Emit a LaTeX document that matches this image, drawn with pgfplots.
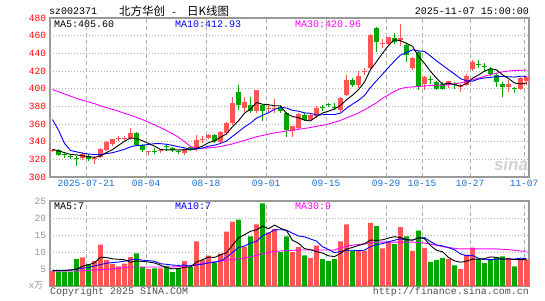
\documentclass[border=0pt]{standalone}
\usepackage{pgfplots}
\pgfplotsset{compat=1.18}
\usepackage{pgfplotstable}
\usepackage{fontspec}
\setmainfont{Liberation Mono}
\newfontfamily\cjk{Noto Sans CJK SC}
\newfontfamily\sansf{Liberation Sans}
\definecolor{cred}{RGB}{255,85,85}
\definecolor{cgreen}{RGB}{0,168,0}
\definecolor{xblue}{RGB}{20,110,210}
\definecolor{framec}{RGB}{153,153,153}
\definecolor{gridc}{RGB}{175,175,175}
\definecolor{mag}{RGB}{255,0,255}
\definecolor{volgray}{RGB}{150,150,150}
\definecolor{txtgray}{RGB}{80,80,80}

\pgfplotstableread{
i lo hi wl wh v
0 330 331 328 332 4.4
5 321 326 319 328 8.4
7 320 321 315 324 7.3
8 323 331.6 321 333 12.2
9 330.5 340 329 341 7.6
10 337 342.5 335 343 6.4
11 343 344 341 346 5.8
12 343.5 344.5 342 346 6.6
13 343.6 350 342 355 8.5
16 328 329 325 330 5.0
18 330 331 327 332 5.2
22 327 331 325 332 7.3
24 331.6 341.7 330 348 13.1
25 342 343 339 346 7.6
26 344.5 348 343 349 8.9
28 340 351 338 352 9.5
29 350 361 348 362 16
30 361 384 359 391 18.9
32 378 384.5 374 390 11.5
34 374.3 398 372 399 18.1
36 377.5 378.5 374 381 15.8
37 377.5 378.5 372 388 16.8
40 352 357.9 345.7 358 10
41 356 371.6 354 372 11.4
43 364.8 369.7 363 371 8.3
44 368.6 378 367 380 11.9
48 375.4 389.5 374 391 13.1
49 393.3 409.3 392 416 18.1
51 403.6 414.3 401 420 10.3
52 419 420 416 423 10.3
53 423 461 421 462 18.6
55 450.6 451.6 446 456 11.1
56 450.6 458.9 449 459 12.9
58 455.5 457.5 448 473 17.3
60 423.3 434.6 421 436 10.3
62 405.8 412.9 398 414 11.2
66 404 408.4 401 409 7.9
68 401.5 402.5 396 405 5.0
69 404.6 414.4 403 417 9.2
70 422.6 430 420 433 11.3
76 402 405.8 396 410 8.3
78 400 412 398 413 7.8
79 408.4 413 404 414 7.8
}\redtab

\pgfplotstableread{
i lo hi wl wh v
1 325 331 324 332 4.2
2 325 326 322 328 4.2
3 323 324 320 326 4.2
4 321 322 313 324 8.0
6 320 324 318 326 6.4
14 336 350 335 351 9.6
15 330.5 336 328 337 5.6
17 329 330 326 333 5.2
19 334 335 330 337 5.9
20 330.5 333 328 334 4.1
21 328.5 329.5 326 331 5.1
23 331 333.5 330 334 5.6
27 341 347.5 339 349 6.8
31 381 396 376 404 19.5
33 374.3 381 372 390 14.6
35 374.3 381 363 383 24.3
38 374.3 379 372 380 10
39 353.3 372.4 345 374 14.6
42 364.8 369.7 363 372 9
45 378 379 375 381 7.9
46 382 383 379 384 7.3
47 378 379 376 384 7.9
50 404 409.3 402 412 10.3
54 453 469 441 470 17.6
57 452.5 457 451 463 12.3
59 438.3 449.5 430 451 14.6
61 402 442 398 443 16.3
63 410 411 405 414 7.1
64 400 407.6 399 409 7.6
65 400 405.8 398 407 8.3
67 404 405 400 407 6.1
71 427 428 423 432 7.9
72 425 426 420 429 6.8
73 417 422.6 414 425 7.6
74 407.6 416 402 418 8.5
75 402 405.8 390 407 8.7
77 399.4 400.4 395 402 5.8
}\greentab

\pgfplotstableread{
i ma5 ma10 ma30 vma5 vma10 vma30
0 331.4 365 399 4.6 4.5 4.4
1 329.5 353 396.5 4.5 4.5 4.4
2 327.6 338 394 4.5 4.6 4.4
3 325.5 330 391.5 4.7 4.7 4.4
4 325 328.5 389 5.0 4.9 4.4
5 324 327 387 5.8 5.2 4.5
6 323 326 385 6.24 5.5 4.6
7 322.2 325.5 383 6.86 5.9 4.7
8 323.9 325.5 380.5 8.46 6.3 4.8
9 327.7 326.4 378.5 8.38 6.69 4.9
10 331 327.5 376.5 7.98 6.89 5.0
11 335.8 329.4 374.5 7.86 7.05 5.2
12 340.5 331.4 372 7.72 7.29 5.4
13 344.2 334.1 370 6.98 7.72 5.6
14 343.4 335.6 367.5 7.38 7.88 5.6
15 341 336 365 7.22 7.6 5.6
16 338 336.9 362 7.06 7.46 5.6
17 334.9 337.7 359 6.78 7.25 5.6
18 331.1 337.7 356 6.12 6.55 5.6
19 330.7 337.1 352.5 5.38 6.38 5.6
20 330.7 335.9 349 5.08 6.15 5.6
21 330.6 334.3 345 5.1 6.08 5.7
22 331 333 340 5.52 6.15 5.8
23 331 331.1 334.5 5.6 5.86 6.0
24 332.5 331.6 332.5 7.04 6.21 6.3
25 335 332.9 332.5 7.74 6.41 6.6
26 338.9 334.8 333 8.5 6.8 6.9
27 340.9 336 333.5 8.4 6.96 7.1
28 344.9 338 334.5 9.18 7.39 7.4
29 348.8 340.7 336 9.76 8.4 7.6
30 357 346 337.5 12.02 9.88 7.8
31 363.6 351.3 339.5 14.14 11.32 8.0
32 372.3 356.6 341.5 15.08 11.74 8.2
33 377 361 343.5 16.1 12.64 8.6
34 384.4 366.6 345.5 16.52 13.14 9.0
35 382.4 369.7 347 17.6 14.81 9.5
36 381.9 372.8 348.5 16.86 15.5 9.9
37 380.7 376.5 350 17.92 16.5 10.1
38 380.7 378.9 351 17 16.55 10.3
39 371.8 378.1 352 16.3 16.41 10.4
40 368.5 375.5 353 13.44 15.52 10.5
41 367.1 374.5 354 12.56 14.71 10.6
42 364.4 372.6 355 11 14.46 10.6
43 363.5 372.1 356 10.66 13.83 10.6
44 368.4 370.1 357.5 10.12 13.21 10.6
45 372.4 370.5 358.5 9.7 11.57 10.6
46 374.5 370.8 360 8.88 10.72 10.6
47 377.1 370.8 362 8.66 9.83 10.6
48 381.1 372.3 364 9.62 10.14 11.2
49 387.4 377.9 367 10.86 10.49 11.7
50 392.6 382.5 369.5 11.34 10.52 12.0
51 399 386.8 372.5 11.94 10.41 12.2
52 407.4 392.3 376 12.42 10.54 12.4
53 421.7 401.4 380 13.52 11.57 12.6
54 430.5 409 384 13.42 12.14 12.9
55 440 416.3 389 13.58 12.46 12.9
56 448.9 424 393 14.1 13.02 12.9
57 455.4 431.4 397 14.5 13.46 12.9
58 454.3 438 400 14.24 13.88 12.9
59 451.3 440.9 401.5 13.64 13.53 12.9
60 448 444 402 13.48 13.53 12.9
61 436.6 442.8 402.5 14.16 14.13 12.8
62 428.7 442.1 403 13.94 14.22 12.6
63 419.6 437 403.5 11.9 13.07 12.3
64 411.9 431.6 404 10.5 12.07 12.0
65 405 426.5 404 10.1 11.79 11.6
66 406.3 421.5 404.5 8.42 11.29 11.3
67 404.5 416.6 405.5 7.4 10.67 11.1
68 402.9 411.3 406.5 6.98 9.44 10.9
69 405.8 408.9 408 7.3 8.9 10.9
70 411.8 408.4 410 7.9 9.0 10.9
71 415.5 410.9 412 7.9 8.16 10.9
72 419.7 412.1 414 8.04 7.72 10.9
73 422.7 412.8 416 8.56 7.77 10.9
74 421.3 413.6 417.5 8.42 7.86 10.9
75 415.7 413.8 419 7.9 7.9 10.8
76 411.5 413.5 420 7.98 7.94 10.7
77 406.4 413.1 420.5 7.78 7.91 10.5
78 405.4 414.1 420.8 7.82 8.19 10.3
79 406.4 413.9 421 7.68 8.05 10.2
}\matab

\pgfplotsset{
  kbase/.style={
    scale only axis, width=479pt,
    xmin=-0.42, xmax=79.42,
    xtick={5.6,15.6,25.6,35.6,45.6,55.6,61.6,69.6,78.6},
    major tick length=0pt,
    xmajorgrids, ymajorgrids,
    x grid style={gridc, line width=0.9pt, dash pattern=on 4pt off 3pt},
    y grid style={gridc, line width=0.9pt, dash pattern=on 1pt off 2pt},
    axis line style={framec, line width=1.3pt},
    tick label style={font=\fontsize{9.5}{10}\selectfont},
    /pgf/number format/assume math mode=true,
    yticklabel style={xshift=-0.5pt},
  },
  wick/.style={draw=none, mark=none, forget plot,
    error bars/.cd, y dir=plus, y explicit, error mark=none,
    error bar style={draw=#1, line width=1pt}},
  body/.style={draw=none, mark=none, forget plot,
    error bars/.cd, y dir=plus, y explicit, error mark=none,
    error bar style={draw=#1, line width=4.6pt}},
}

\begin{document}
\begin{tikzpicture}
\useasboundingbox (0,0) rectangle (545pt,300pt);

% ---------- price panel ----------
\begin{axis}[kbase,
  at={(50pt,123pt)}, anchor=south west, height=159pt,
  ymin=300, ymax=480, ytick={300,320,...,480},
  xticklabels={2025-07-21,08-04,08-18,09-01,09-15,09-29,10-15,10-27,11-07},
  xticklabel style={text=xblue},
  yticklabel style={text=red},
]
\addplot[wick=cred] table[x=i, y=wl, y error expr=\thisrow{wh}-\thisrow{wl}] {\redtab};
\addplot[wick=cgreen] table[x=i, y=wl, y error expr=\thisrow{wh}-\thisrow{wl}] {\greentab};
\addplot[body=cred] table[x=i, y=lo, y error expr=\thisrow{hi}-\thisrow{lo}] {\redtab};
\addplot[body=cgreen] table[x=i, y=lo, y error expr=\thisrow{hi}-\thisrow{lo}] {\greentab};
\addplot[mag, line width=0.9pt, mark=none] table[x=i, y=ma30] {\matab};
\addplot[blue, line width=0.9pt, mark=none] table[x=i, y=ma10] {\matab};
\addplot[black, line width=0.9pt, mark=none] table[x=i, y=ma5] {\matab};
\end{axis}

% ---------- volume panel ----------
\begin{axis}[kbase,
  at={(50pt,14pt)}, anchor=south west, height=85pt,
  ymin=0, ymax=25, ytick={5,10,15,20,25},
  xticklabels={},
  yticklabel style={text=volgray},
]
\addplot[ybar, bar width=4.6pt, bar shift=0pt, fill=cred, draw=none] table[x=i, y=v] {\redtab};
\addplot[ybar, bar width=4.6pt, bar shift=0pt, fill=cgreen, draw=none] table[x=i, y=v] {\greentab};
\addplot[mag, line width=0.9pt, mark=none] table[x=i, y=vma30] {\matab};
\addplot[blue, line width=0.9pt, mark=none] table[x=i, y=vma10] {\matab};
\addplot[black, line width=0.9pt, mark=none] table[x=i, y=vma5] {\matab};
\end{axis}

% ---------- texts ----------
\node[anchor=west, inner sep=0pt, font=\fontsize{10}{11}\selectfont] at (49pt,289pt) {sz002371};
\node[anchor=west, inner sep=0pt] at (119pt,289pt) {{\cjk\fontsize{11.5}{12}\selectfont 北方华创}\fontsize{10}{11}\selectfont\ -\ \hspace{4pt}{\cjk\fontsize{11.5}{12}\selectfont 日K线图}};
\node[anchor=east, inner sep=0pt, font=\fontsize{10}{11}\selectfont] at (529pt,289pt) {2025-11-07 15:00:00};

\node[anchor=west, inner sep=0pt, font=\fontsize{10}{11}\selectfont, text=black] at (54pt,276pt) {MA5:405.60};
\node[anchor=west, inner sep=0pt, font=\fontsize{10}{11}\selectfont, text=blue] at (175pt,276pt) {MA10:412.93};
\node[anchor=west, inner sep=0pt, font=\fontsize{10}{11}\selectfont, text=mag] at (295pt,276pt) {MA30:420.96};

\node[anchor=west, inner sep=0pt, font=\fontsize{10}{11}\selectfont, text=black] at (54pt,94pt) {MA5:7};
\node[anchor=west, inner sep=0pt, font=\fontsize{10}{11}\selectfont, text=blue] at (175pt,94pt) {MA10:7};
\node[anchor=west, inner sep=0pt, font=\fontsize{10}{11}\selectfont, text=mag] at (295pt,94pt) {MA30:9};

\node[anchor=center, inner sep=0pt, text=volgray, font=\fontsize{9}{10}\selectfont] at (36pt,14.5pt) {x{\cjk 万}};
\node[anchor=west, inner sep=0pt, text=txtgray, font=\fontsize{10}{11}\selectfont] at (50pt,8pt) {Copyright 2025 SINA.COM};
\node[anchor=east, inner sep=0pt, text=txtgray, font=\fontsize{10}{11}\selectfont] at (529pt,8pt) {http://finance.sina.com.cn};
\node[anchor=center, inner sep=0pt, text=gray!35, font=\sansf\bfseries\itshape\fontsize{17}{18}\selectfont] at (511pt,136pt) {sina};
\end{tikzpicture}
\end{document}
